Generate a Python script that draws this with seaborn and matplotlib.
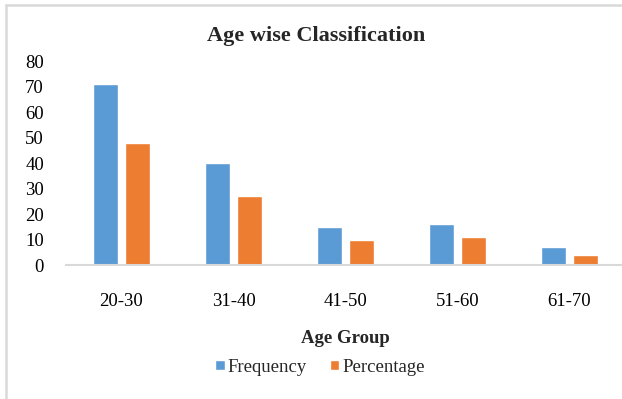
import matplotlib
matplotlib.use("Agg")
import matplotlib.pyplot as plt
from matplotlib.lines import Line2D
import pandas as pd
import seaborn as sns

age_groups = ["20-30", "31-40", "41-50", "51-60", "61-70"]
frequency = [71, 40, 15, 16, 7]
percentage = [48, 27, 10, 11, 4]
series_names = ["Frequency", "Percentage"]
y_ticks = [0, 10, 20, 30, 40, 50, 60, 70, 80]

df = pd.DataFrame({
    "Age Group": age_groups * 2,
    "Value": frequency + percentage,
    "Series": [series_names[0]] * len(age_groups) + [series_names[1]] * len(age_groups),
})

sns.set_style("white")
plt.rcParams["font.family"] = ["Liberation Serif", "DejaVu Serif"]

W, H = 622, 399
fig = plt.figure(figsize=(W / 100, H / 100), dpi=100)
ax = fig.add_axes([65.5 / W, 1 - 265 / H, 560 / W, 203.5 / H])

palette = {"Frequency": "#5B9BD5", "Percentage": "#ED7D31"}
sns.barplot(data=df, x="Age Group", y="Value", hue="Series", palette=palette,
            width=0.571, gap=0.22, saturation=1, ax=ax, legend=True)

ax.set_ylim(0, 80)
ax.set_xlim(-0.5, 4.5)
ax.set_yticks(y_ticks)
ax.set_yticklabels([str(t) for t in y_ticks])
ax.tick_params(axis="both", length=0, labelsize=13.5, colors="black")
ax.tick_params(axis="y", pad=15.5)
ax.tick_params(axis="x", pad=20)
ax.set_xlabel("")
ax.set_ylabel("")
for s in ["top", "right", "left"]:
    ax.spines[s].set_visible(False)
ax.spines["bottom"].set_color("#D9D9D9")
ax.spines["bottom"].set_linewidth(1.5)

handles, labels = ax.get_legend_handles_labels()
ax.get_legend().remove()
fig.legend(handles, labels, loc="center", bbox_to_anchor=(320 / W, 1 - 367 / H),
           ncol=2, frameon=False, fontsize=13.5, handlelength=0.5, handleheight=0.5,
           handletextpad=0.18, columnspacing=1.2, borderpad=0.2)

fig.text(316 / W, 1 - 41 / H, "Age wise Classification", ha="center", va="baseline",
         fontsize=16, fontweight="bold")
fig.text(345.5 / W, 1 - 343 / H, "Age Group", ha="center", va="baseline",
         fontsize=13.5, fontweight="bold")

# light chart-area frame along the top and left edges
fig.add_artist(Line2D([6 / W, 1], [1 - 5 / H, 1 - 5 / H], transform=fig.transFigure,
                      color="#D9D9D9", linewidth=1.8))
fig.add_artist(Line2D([6 / W, 6 / W], [0, 1 - 5 / H], transform=fig.transFigure,
                      color="#D9D9D9", linewidth=1.8))

fig.savefig("out.png", dpi=100)
